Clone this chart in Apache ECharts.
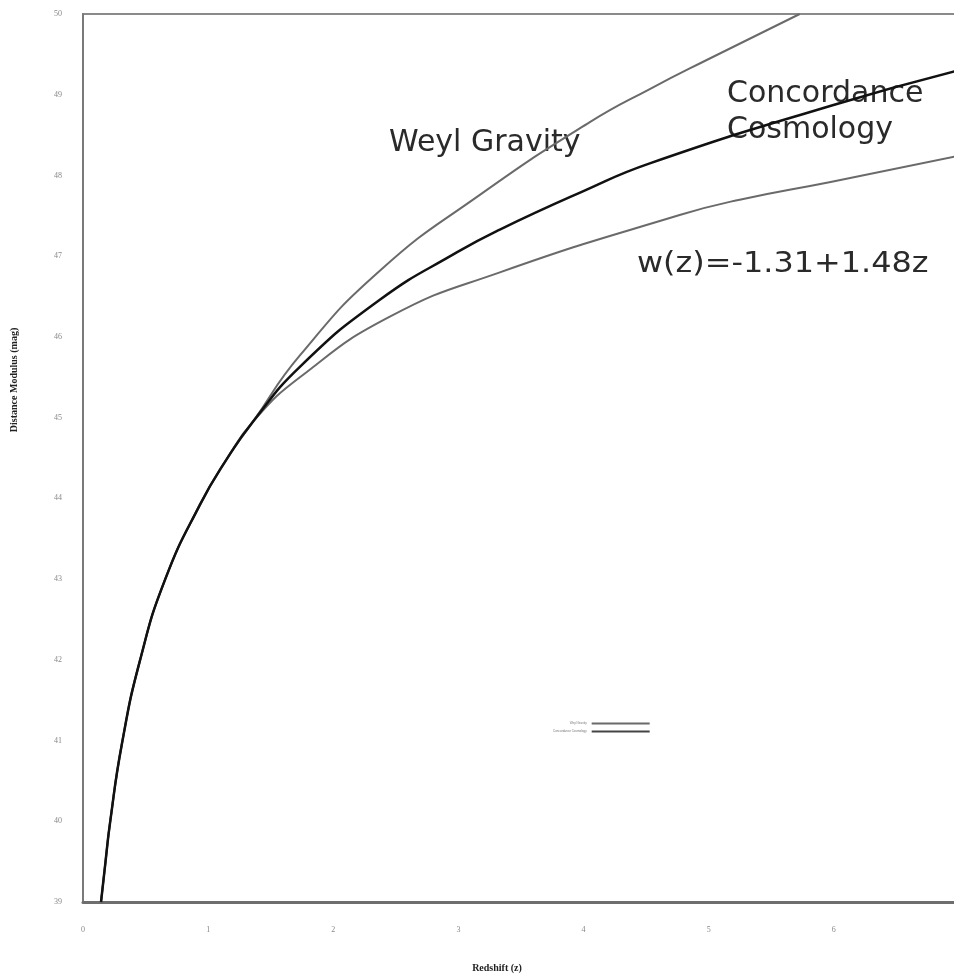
<!DOCTYPE html>
<html>
<head>
<meta charset="utf-8">
<script src="https://cdn.jsdelivr.net/npm/echarts@6/dist/echarts.min.js"></script>
<style>html,body{margin:0;padding:0;background:#fff;overflow:hidden}#c{width:954px;height:980px}</style>
</head>
<body>
<div id="c"></div>
<script>
// Shared low-redshift part (all three curves coincide)
const commonZ  = [0.144, 0.18, 0.216, 0.311, 0.455, 0.655, 0.934, 1.150, 1.358];
const commonMu = [39.00, 39.50, 39.98, 40.96, 41.99, 42.99, 43.92, 44.49, 44.95];

// Weyl Gravity
const weylZ  = [1.733, 2.372, 3.171, 4.050, 4.529, 4.984, 5.727];
const weylMu = [45.77, 46.82, 47.76, 48.66, 49.07, 49.43, 50.00];

// Concordance Cosmology
const concZ  = [1.733, 2.372, 2.990, 3.331, 3.990, 4.529, 5.990, 6.990];
const concMu = [45.63, 46.46, 47.05, 47.33, 47.80, 48.15, 48.87, 49.30];

// w(z) = -1.31 + 1.48z
const wzZ  = [1.733, 2.452, 3.331, 4.768, 5.248, 5.974, 6.990];
const wzMu = [45.50, 46.25, 46.80, 47.51, 47.70, 47.92, 48.24];

const xTicks = [0, 1, 2, 3, 4, 5, 6, 7];
const yTicks = [39, 40, 41, 42, 43, 44, 45, 46, 47, 48, 49, 50];

function build(zs, mus) {
  const pts = commonZ.map((z, i) => [z, commonMu[i]]);
  zs.forEach((z, i) => pts.push([z, mus[i]]));
  return pts;
}

const chart = echarts.init(document.getElementById('c'), null, {renderer: 'canvas'});
chart.setOption({
  animation: false,
  backgroundColor: '#fff',
  grid: {left: 83, top: 14, width: 876, height: 888, outerBoundsMode: 'none', containLabel: false,
         show: true, borderColor: '#8a8a8a', borderWidth: 2, backgroundColor: 'transparent'},
  legend: {
    left: 548, top: 717, orient: 'vertical', align: 'right',
    itemWidth: 58, itemHeight: 2, itemGap: 5,
    icon: 'rect',
    textStyle: {fontSize: 3, color: '#777', padding: 0},
    data: ['Weyl Gravity', 'Concordance Cosmology']
  },
  xAxis: {
    type: 'value', min: xTicks[0], max: xTicks[xTicks.length - 1], interval: 1,
    axisLine: {show: true, lineStyle: {color: '#6e6e6e', width: 3}},
    axisTick: {show: false},
    splitLine: {show: false},
    axisLabel: {margin: 24, fontSize: 8, color: '#888', fontFamily: 'Liberation Serif'}
  },
  yAxis: {
    type: 'value', min: yTicks[0], max: yTicks[yTicks.length - 1], interval: 1,
    axisLine: {show: true, lineStyle: {color: '#7a7a7a', width: 2}},
    axisTick: {show: false},
    splitLine: {show: false},
    axisLabel: {margin: 21, fontSize: 8, color: '#888', fontFamily: 'Liberation Serif'}
  },
  graphic: [
    {type: 'text', left: 389, top: 128, style: {text: 'Weyl Gravity', font: '30px "DejaVu Sans"', fill: '#2a2a2a'}},
    {type: 'text', left: 727, top: 79, style: {text: 'Concordance', font: '30px "DejaVu Sans"', fill: '#2a2a2a'}},
    {type: 'text', left: 727, top: 115, style: {text: 'Cosmology', font: '30px "DejaVu Sans"', fill: '#2a2a2a'}},
    {type: 'text', x: 637, y: 250, scaleX: 1.1, style: {text: 'w(z)=-1.31+1.48z', font: '29px "DejaVu Sans"', fill: '#2a2a2a'}},
    {type: 'text', x: 14, y: 380, rotation: Math.PI / 2, style: {text: 'Distance Modulus (mag)', font: 'bold 10px "Liberation Serif"', fill: '#222', align: 'center', verticalAlign: 'middle'}},
    {type: 'text', x: 497, y: 968, style: {text: 'Redshift (z)', font: 'bold 10px "Liberation Serif"', fill: '#222', align: 'center', verticalAlign: 'middle'}}
  ],
  series: [
    {name: 'Weyl Gravity', type: 'line', data: build(weylZ, weylMu), showSymbol: false, smooth: 0.5, clip: true,
     lineStyle: {color: '#6a6a6a', width: 2}, itemStyle: {color: '#6a6a6a'}},
    {name: 'w(z)=-1.31+1.48z', type: 'line', data: build(wzZ, wzMu), showSymbol: false, smooth: 0.5, clip: true,
     lineStyle: {color: '#6a6a6a', width: 2}, itemStyle: {color: '#6a6a6a'}},
    {name: 'Concordance Cosmology', type: 'line', data: build(concZ, concMu), showSymbol: false, smooth: 0.5, clip: true,
     lineStyle: {color: '#111', width: 2.5}, itemStyle: {color: '#444'}}
  ]
});
</script>
</body>
</html>
